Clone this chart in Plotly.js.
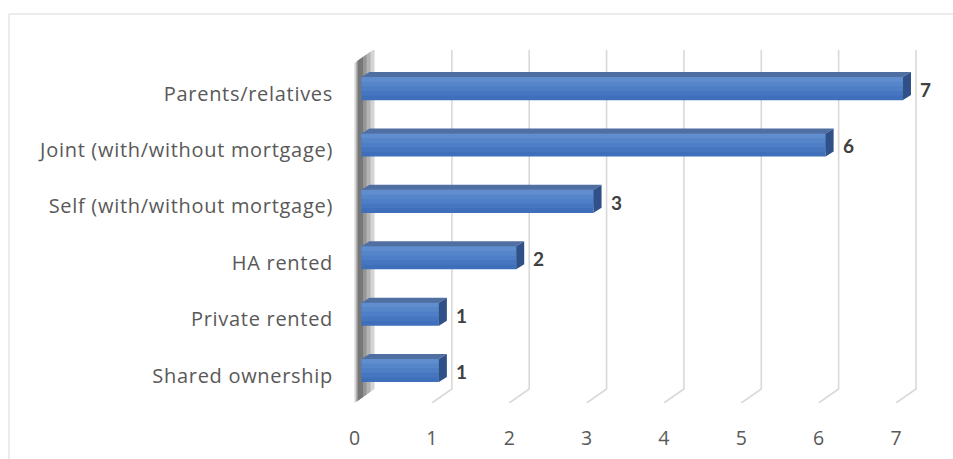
<!DOCTYPE html>
<html>
<head>
<meta charset="utf-8">
<script src="https://cdn.plot.ly/plotly-3.0.1.min.js"></script>
<style>
html,body{margin:0;padding:0;background:#fff;}
#chart .ytick text{letter-spacing:0.7px;}
</style>
</head>
<body>
<div id="chart" style="width:953px;height:459px;"></div>
<script>
// ---- data ----
const categories = ["Shared ownership", "Private rented", "HA rented",
  "Self (with/without mortgage)", "Joint (with/without mortgage)", "Parents/relatives"];
const values = [1, 1, 2, 3, 6, 7];
const positions = [0, 1, 2, 3, 4, 5];
const xTickVals = [0, 1, 2, 3, 4, 5, 6, 7];
const xTickText = ["0", "1", "2", "3", "4", "5", "6", "7"];

// ---- geometry / style ----
const pxPerUnit = 77.35;
const xRange = [-0.1875, 7.569];
const barShift = 7 / pxPerUnit;            // bars sit a little behind the front plane
const xRange2 = [xRange[0] - barShift, xRange[1] - barShift];
const yRange = [-0.576, 5.684];
const barW = 0.41;
const halfPx = 11.5;                        // half of front-face height in px
const depth = [8, 5];                       // bar depth offset (px)
const wallDepth = [20, 14];                 // floor/wall depth offset (px)
const plotH = 353;
const font = "'Open Sans', 'Noto Sans', sans-serif";
const labelFont = "Lato, 'Open Sans', sans-serif";

const traces = [];
const bands = [
  {w: barW, off: -barW / 2, c: "#3f6fba"},
  {w: barW * 0.8, off: -barW / 2 + barW * 0.2, c: "#4676c0"},
  {w: barW * 0.6, off: -barW / 2 + barW * 0.4, c: "#4e7ec5"},
  {w: barW * 0.4, off: -barW / 2 + barW * 0.6, c: "#5686ca"},
  {w: barW * 0.2, off: -barW / 2 + barW * 0.8, c: "#618dce"}
];
bands.forEach(b => {
  traces.push({
    type: "bar", orientation: "h", x: values, y: positions,
    xaxis: "x2", yaxis: "y",
    width: positions.map(() => b.w), offset: positions.map(() => b.off),
    marker: {color: b.c, line: {width: 0}},
    hoverinfo: "skip", showlegend: false
  });
});

const shapes = [];
// chart border (top and left edges visible)
shapes.push({type: "line", xref: "paper", yref: "paper", x0: -0.5517, x1: 1.2, y0: 1.102, y1: 1.102,
  line: {color: "#d9d9d9", width: 1}, layer: "below"});
shapes.push({type: "line", xref: "paper", yref: "paper", x0: -0.5517, x1: -0.5517, y0: 1.102, y1: -0.3,
  line: {color: "#d9d9d9", width: 1}, layer: "below"});

// gridlines: floor diagonal + back vertical
xTickVals.slice(1).forEach(v => {
  shapes.push({type: "path", xref: "x", xsizemode: "pixel", xanchor: v,
    yref: "y", ysizemode: "pixel", yanchor: yRange[0],
    path: `M 0,0 L ${wallDepth[0]},${wallDepth[1]} L ${wallDepth[0]},${plotH}`,
    line: {color: "#d9d9d9", width: 1.6}, fillcolor: "rgba(0,0,0,0)", layer: "below"});
});
// left wall at 0
const wallLayers = [
  {a: 0, b: wallDepth[0], c: "#d4d4d4"},
  {a: 1.5, b: 16, c: "#b4b4b4"},
  {a: 2.5, b: 12, c: "#959595"},
  {a: 3.5, b: 8.5, c: "#777777"}
];
wallLayers.forEach(L => {
  const k = wallDepth[1] / wallDepth[0];
  shapes.push({type: "path", xref: "x", xsizemode: "pixel", xanchor: 0,
    yref: "y", ysizemode: "pixel", yanchor: yRange[0],
    path: `M ${L.a},${L.a * k} L ${L.b},${L.b * k} L ${L.b},${340 + L.b * k} L ${L.a},${340 + L.a * k} Z`,
    line: {width: 0}, fillcolor: L.c, layer: "below"});
});

// bar top and side faces
const dx = depth[0] / pxPerUnit;
values.forEach((v, i) => {
  shapes.push({type: "path", xref: "x2", yref: "y", ysizemode: "pixel", yanchor: positions[i],
    path: `M 0,${halfPx} L ${v},${halfPx} L ${v + dx},${halfPx + depth[1]} L ${dx},${halfPx + depth[1]} Z`,
    line: {width: 0}, fillcolor: "#4f6fa2", layer: "above"});
  shapes.push({type: "path", xref: "x2", xsizemode: "pixel", xanchor: v,
    yref: "y", ysizemode: "pixel", yanchor: positions[i],
    path: `M 0,${halfPx} L ${depth[0]},${halfPx + depth[1]} L ${depth[0]},${-halfPx + depth[1]} L 0,${-halfPx} Z`,
    line: {width: 0}, fillcolor: "#2f5187", layer: "above"});
});

// data labels
const annotations = values.map((v, i) => ({
  x: v, y: positions[i], xref: "x2", yref: "y",
  text: "<b>" + v + "</b>", showarrow: false, xanchor: "left", yanchor: "middle",
  xshift: 15, yshift: -1,
  font: {family: labelFont, size: 19, color: "#404040"}
}));

const layout = {
  width: 953, height: 459,
  margin: {l: 340, r: 13, t: 50, b: 56},
  paper_bgcolor: "#ffffff", plot_bgcolor: "rgba(0,0,0,0)",
  barmode: "overlay",
  showlegend: false,
  xaxis: {range: xRange, tickvals: xTickVals, ticktext: xTickText, showgrid: false, zeroline: false,
    showline: false, ticks: "", ticklabelstandoff: 21, tickfont: {family: font, size: 19.5, color: "#595959"},
    fixedrange: true},
  xaxis2: {range: xRange2, overlaying: "x", visible: false, fixedrange: true},
  yaxis: {range: yRange, tickvals: positions, ticktext: categories, showgrid: false, zeroline: false,
    showline: false, ticks: "", ticklabelstandoff: 6, ticklabelshift: 5,
    tickfont: {family: font, size: 20, color: "#595959"}, fixedrange: true},
  shapes: shapes,
  annotations: annotations
};

Plotly.newPlot("chart", traces, layout, {displayModeBar: false, staticPlot: true});
</script>
</body>
</html>
